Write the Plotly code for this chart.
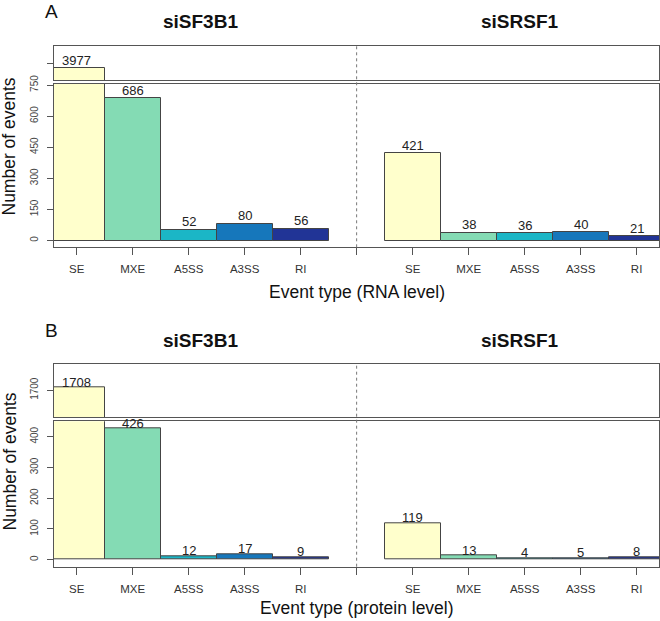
import plotly.graph_objects as go

# ---- data ----
event_types = ["SE", "MXE", "A5SS", "A3SS", "RI"]
conditions = ["siSF3B1", "siSRSF1"]
rna_siSF3B1 = [3977, 686, 52, 80, 56]
rna_siSRSF1 = [421, 38, 36, 40, 21]
prot_siSF3B1 = [1708, 426, 12, 17, 9]
prot_siSRSF1 = [119, 13, 4, 5, 8]
bar_colors = ["#FFFFCC", "#84DBB4", "#1BB6C6", "#1677BB", "#213496"]
rna_yticks_low = [0, 150, 300, 450, 600, 750]
rna_yticks_high = [4000]
prot_yticks_low = [0, 100, 200, 300, 400]
prot_yticks_high = [1700]

W, H = 660, 621
FONT = "Liberation Sans, Arial, sans-serif"
LINE = "#555555"


def py(p):
    return 1 - p / H


xpos = [0, 1, 2, 3, 4, 6, 7, 8, 9, 10]
xticktext = event_types + [""] + event_types
xtickvals = list(range(11))
XRANGE = [-0.405, 10.40]
XDOM = [54 / W, 659 / W]

fig = go.Figure()

panels = [
    (rna_siSF3B1, rna_siSRSF1, "x", "y", "x2", "y2", 8),
    (prot_siSF3B1, prot_siSRSF1, "x3", "y3", "x4", "y4", 5.5),
]

for left, right, xl, yl, xu, yu, ysh in panels:
    vals = left + right
    cols = bar_colors + bar_colors
    for xa, ya in ((xl, yl), (xu, yu)):
        fig.add_trace(go.Bar(
            x=xpos, y=vals, xaxis=xa, yaxis=ya, width=1.0,
            marker=dict(color=cols, line=dict(color="#444444", width=1)),
            showlegend=False, hoverinfo="x+y",
        ))

ax_common_x = dict(range=XRANGE, domain=XDOM, showgrid=False, zeroline=False,
                   showline=True, linecolor=LINE, linewidth=1, mirror=True,
                   automargin=False)
ax_common_y = dict(showgrid=False, zeroline=False, showline=True, linecolor=LINE,
                   linewidth=1, mirror=True, ticks="outside", ticklen=6,
                   tickcolor=LINE, tickangle=-90, ticklabelstandoff=5,
                   automargin=False,
                   tickfont=dict(family=FONT, size=10, color="#444444"))
xtick_style = dict(tickmode="array", tickvals=xtickvals, ticktext=xticktext,
                   ticks="outside", ticklen=7, tickcolor=LINE, ticklabelstandoff=4,
                   tickfont=dict(family=FONT, size=11.5, color="#333333"))

A_low_dom = [py(247.3), py(84)]
A_up_dom = [py(80), py(46)]
B_low_dom = [py(566.7), py(421.3)]
B_up_dom = [py(417.3), py(364.3)]

fig.update_layout(
    xaxis=dict(**ax_common_x, anchor="y", **xtick_style),
    yaxis=dict(**ax_common_y, anchor="x", domain=A_low_dom, range=[-32.8, 755],
               tickmode="array", tickvals=rna_yticks_low,
               ticktext=[str(v) for v in rna_yticks_low]),
    xaxis2=dict(**ax_common_x, anchor="y2", showticklabels=False, ticks=""),
    yaxis2=dict(**ax_common_y, anchor="x2", domain=A_up_dom, range=[3920.4, 4084.4],
                tickmode="array", tickvals=rna_yticks_high, ticktext=[""]),
    xaxis3=dict(**ax_common_x, anchor="y3", **xtick_style),
    yaxis3=dict(**ax_common_y, anchor="x3", domain=B_low_dom, range=[-22.8, 450.1],
                tickmode="array", tickvals=prot_yticks_low,
                ticktext=[str(v) for v in prot_yticks_low]),
    xaxis4=dict(**ax_common_x, anchor="y4", showticklabels=False, ticks=""),
    yaxis4=dict(**ax_common_y, anchor="x4", domain=B_up_dom, range=[1611.9, 1784.2],
                tickmode="array", tickvals=prot_yticks_high,
                ticktext=[str(v) for v in prot_yticks_high]),
)

annotations = []
for (left, right, xl, yl, xu, yu, ysh), hi_thresh in zip(panels, (755, 450.1)):
    for x, v in zip(xpos, left + right):
        if v > hi_thresh:
            xr, yr = xu, yu
        else:
            xr, yr = xl, yl
        annotations.append(dict(x=x, y=v, xref=xr, yref=yr, text=str(v),
                                showarrow=False, yanchor="middle", yshift=ysh,
                                font=dict(family=FONT, size=13, color="#222222")))

for letter, ytop in (("A", 11.7), ("B", 330)):
    annotations.append(dict(x=51.7 / W, y=py(ytop), xref="paper", yref="paper",
                            text=letter, showarrow=False, xanchor="center",
                            yanchor="middle",
                            font=dict(family=FONT, size=19, color="#111111")))
for ytitle in (21.7, 340):
    for cond, xc in zip(conditions, (200.8, 520)):
        annotations.append(dict(x=xc / W, y=py(ytitle), xref="paper", yref="paper",
                                text="<b>" + cond + "</b>", showarrow=False,
                                xanchor="center", yanchor="middle",
                                font=dict(family=FONT, size=19, color="#111111")))

for yc in (146.5, 461.5):
    annotations.append(dict(x=9 / W, y=py(yc), xref="paper", yref="paper",
                            text="Number of events", textangle=-90, showarrow=False,
                            xanchor="center", yanchor="middle",
                            font=dict(family=FONT, size=17.5, color="#111111")))
for txt, yc in (("Event type (RNA level)", 292), ("Event type (protein level)", 607.5)):
    annotations.append(dict(x=357 / W, y=py(yc), xref="paper", yref="paper",
                            text=txt, showarrow=False, xanchor="center",
                            yanchor="middle",
                            font=dict(family=FONT, size=17.5, color="#111111")))

shapes = []
for ybot, ytop in ((247.3, 46), (566.7, 364.3)):
    shapes.append(dict(type="line", xref="x", yref="paper", x0=5, x1=5,
                       y0=py(ybot), y1=py(ytop),
                       line=dict(color="#777777", width=1, dash="dot")))

fig.update_layout(
    width=W, height=H,
    margin=dict(l=0, r=0, t=0, b=0, autoexpand=False),
    paper_bgcolor="white", plot_bgcolor="white",
    bargap=0, barmode="overlay",
    annotations=annotations, shapes=shapes,
    font=dict(family=FONT),
)

fig.write_html(
    "out.html",
    config={"displayModeBar": False},
    post_script=(
        "document.body.style.margin='0px';document.body.style.padding='0px';"
        "document.documentElement.style.overflow='hidden';"
        "var gd=document.getElementById('{plot_id}');"
        "gd.style.position='fixed';gd.style.top='0px';gd.style.left='0px';"
    ),
)
